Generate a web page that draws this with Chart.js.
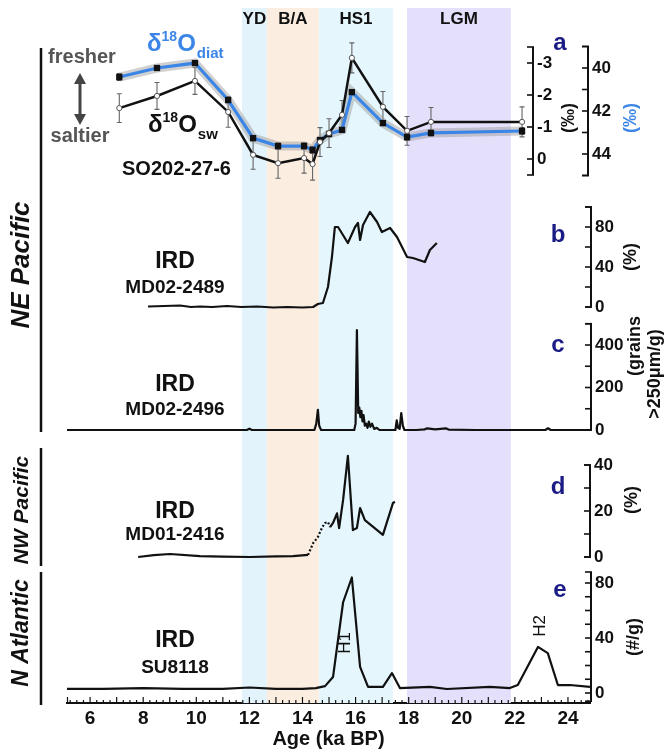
<!DOCTYPE html>
<html>
<head>
<meta charset="utf-8">
<script src="https://cdn.jsdelivr.net/npm/chart.js@4.4.1/dist/chart.umd.min.js"></script>
<style>
  html, body { margin: 0; padding: 0; background: #fff; }
  canvas { display: block; }
</style>
</head>
<body>
<canvas id="myChart" width="667" height="754"></canvas>
<script>
// ---- values (age in ka BP) ----
var ageA = [7.1, 8.52, 9.95, 11.2, 12.14, 13.08, 14.06, 14.38, 14.66, 15.0, 15.49, 15.86, 17.03, 17.94, 18.84, 22.27];
var swVal = [-1.59, -1.97, -2.44, -1.47, -0.13, 0.13, -0.03, 0.16, -0.53, -0.81, -1.38, -3.16, -1.63, -0.88, -1.16, -1.16];
var swErr = [0.45, 0.42, 0.42, 0.48, 0.45, 0.47, 0.47, 0.5, 0.45, 0.45, 0.45, 0.47, 0.48, 0.45, 0.45, 0.47];
var diatVal = [40.42, 40.0, 39.77, 41.49, 43.26, 43.63, 43.63, 43.81, 43.35, 43.07, 42.88, 41.12, 42.56, 43.21, 43.02, 42.93];
var diatErr = [0.15, 0.1, 0.1, 0.12, 0.12, 0.14, 0.14, 0.15, 0.12, 0.12, 0.12, 0.12, 0.12, 0.15, 0.12, 0.15];

var bAge = [8.18, 8.8, 9.39, 9.8, 10.14, 10.6, 11.16, 11.7, 12.29, 12.9, 13.42, 14.0, 14.4, 14.58, 14.77, 14.96, 15.11, 15.22, 15.34, 15.71, 15.98, 16.09, 16.17, 16.28, 16.54, 16.81, 16.99, 17.3, 17.56, 17.94, 18.16, 18.61, 18.8, 19.06];
var bVal = [0.5, 1, 1.5, 0, 0.5, 0, 1, 0, 0.5, -0.5, 0, -0.5, 0, 3, 4, 20, 50, 80, 80, 64, 80, 84, 67, 82, 95, 85, 75, 79, 70, 50, 49, 45, 57, 64];

var cAge = [5.0, 9.0, 11.9, 12.0, 12.1, 12.3, 14.45, 14.52, 14.58, 14.63, 14.7, 15.95, 16.0, 16.05, 16.1, 16.14, 16.18, 16.22, 16.26, 16.3, 16.35, 16.4, 16.45, 16.5, 16.56, 16.62, 16.7, 16.8, 16.9, 17.5, 17.55, 17.6, 17.66, 17.72, 17.78, 17.84, 18.3, 18.6, 18.7, 19.0, 19.4, 19.5, 20.5, 23.15, 23.25, 23.35, 25.0];
var cVal = [0, 0, 0, 6, 0, 0, 0, 30, 95, 20, 0, 0, 30, 470, 80, 105, 60, 90, 40, 70, 20, 30, 10, 40, 15, 30, 5, 10, 0, 0, 45, 10, 5, 80, 20, 0, 0, 3, 8, 3, 8, 2, 0, 0, 8, 0, 0];

var dAge = [7.81, 8.4, 9.01, 10.14, 11.0, 12.02, 13.0, 13.64, 14.21, 14.4, 14.58, 14.73, 14.85, 14.96, 15.04, 15.15, 15.3, 15.38, 15.53, 15.71, 15.9, 16.05, 16.17, 16.35, 17.03, 17.41, 17.48];
var dVal = [0, 0.8, 1.3, 0.4, 0.2, 0, 0.3, 0.4, 0.9, 6, 8.7, 12.6, 14.8, 15.2, 13, 14.8, 19, 12.6, 24.8, 44, 11.7, 12.6, 21.3, 16, 9.6, 23.5, 24];

var eAge = [5.0, 6.5, 8.0, 9.5, 11.0, 12.0, 13.0, 14.0, 14.5, 14.85, 15.15, 15.53, 15.86, 16.17, 16.47, 17.03, 17.37, 17.67, 18.8, 19.44, 21.06, 21.81, 22.11, 22.87, 23.24, 23.62, 24.07, 24.83];
var eVal = [3, 3, 3.5, 3, 3, 4, 3, 3, 3.5, 5, 11.6, 66, 84, 19, 4.4, 4.4, 14.5, 3.6, 4.4, 2.9, 4.4, 3.6, 5.8, 33.5, 29, 5.8, 5.8, 4.4];

// tick labels
var xTicks = [6, 8, 10, 12, 14, 16, 18, 20, 22, 24];
var swTicks = [-3, -2, -1, 0];
var diatTicks = [40, 42, 44];
var bTicks = [0, 40, 80];
var cTicks = [0, 200, 400];
var dTicks = [0, 20, 40];
var eTicks = [0, 40, 80];

// climate intervals
var bandNames = ['YD', 'B/A', 'HS1', 'LGM'];
var bandStart = [11.72, 12.66, 14.62, 17.94];
var bandEnd = [12.66, 14.62, 17.41, 21.85];

// ---- styling / layout ----
var FONT = '"Liberation Sans", Arial, sans-serif';
var BLUE = '#3a85e6';
var NAVY = '#1b1b86';
var bandColors = ['#e3f3fb', '#fcede1', '#e5f7fd', '#e4dffb'];
var TOP = 8, BOTTOM = 703;   // chart area, px

// value/pixel pairs that place each panel in the stack
var anchors = {
    ySw:   [-3, 63, 0, 159, true],
    yDiat: [40, 68, 44, 154, true],
    yB:    [0, 307, 80, 227, false],
    yC:    [0, 430, 400, 345, false],
    yD:    [0, 557, 40, 465, false],
    yE:    [0, 693, 80, 583, false]
};

var axisDefs = [
    {id: 'ySw', x: 533, lo: -3.5, hi: 0.5, step: 1, ticks: swTicks, title: ['(‰)'], tx: [569], ty: [118], tc: '#111'},
    {id: 'yDiat', x: 588, lo: 39, hi: 45, step: 1, ticks: diatTicks, title: ['(‰)'], tx: [631], ty: [118], tc: BLUE},
    {id: 'yB', x: 591, lo: 0, hi: 100, step: 20, ticks: bTicks, title: ['(%)'], tx: [631], ty: [257], tc: '#111'},
    {id: 'yC', x: 591, lo: 0, hi: 500, step: 100, ticks: cTicks, title: ['(grains', '>250μm/g)'], tx: [635, 655], ty: [346, 374], tc: '#111'},
    {id: 'yD', x: 590, lo: 0, hi: 40, step: 10, ticks: dTicks, title: ['(%)'], tx: [632], ty: [500], tc: '#111'},
    {id: 'yE', x: 591, lo: -6, hi: 88, step: 10, ticks: eTicks, title: ['(#/g)'], tx: [634], ty: [637], tc: '#111'}
];

function yScale(id) {
    var a = anchors[id];
    var s = (a[3] - a[1]) / (a[2] - a[0]);
    var vT = a[0] + (TOP - a[1]) / s;
    var vB = a[0] + (BOTTOM - a[1]) / s;
    if (a[4]) return {type: 'linear', display: false, reverse: true, min: vT, max: vB};
    return {type: 'linear', display: false, min: vB, max: vT};
}

function pts(xs, ys) {
    return xs.map(function (v, i) { return {x: v, y: ys[i]}; });
}

function txt(ctx, s, x, y, font, color, align, rot) {
    ctx.save();
    ctx.font = font;
    ctx.fillStyle = color;
    ctx.textAlign = align || 'center';
    ctx.textBaseline = 'middle';
    ctx.translate(x, y);
    if (rot) ctx.rotate(rot);
    ctx.fillText(s, 0, 0);
    ctx.restore();
}

function iso(ctx, x, base, sub, color) {
    ctx.save();
    ctx.fillStyle = color;
    ctx.textAlign = 'left';
    ctx.textBaseline = 'alphabetic';
    ctx.font = 'bold 24px ' + FONT;
    ctx.fillText('δ', x, base);
    x += ctx.measureText('δ').width;
    ctx.font = 'bold 14px ' + FONT;
    ctx.fillText('18', x, base - 10);
    x += ctx.measureText('18').width;
    ctx.font = 'bold 24px ' + FONT;
    ctx.fillText('O', x, base);
    x += ctx.measureText('O').width + 1;
    ctx.font = 'bold 15px ' + FONT;
    ctx.fillText(sub, x, base + 7);
    ctx.restore();
}

var decor = {
    id: 'decor',
    beforeDatasetsDraw: function (chart) {
        var ctx = chart.ctx, ca = chart.chartArea, xs = chart.scales.x;
        ctx.save();
        bandNames.forEach(function (n, i) {
            var x0 = xs.getPixelForValue(bandStart[i]), x1 = xs.getPixelForValue(bandEnd[i]);
            ctx.fillStyle = bandColors[i];
            ctx.fillRect(x0, ca.top, x1 - x0, ca.bottom - ca.top);
            txt(ctx, n, (x0 + x1) / 2, ca.top + 11, 'bold 17px ' + FONT, '#111');
        });
        // error bars
        chart.data.datasets.forEach(function (ds, i) {
            if (!ds.errorBars) return;
            var meta = chart.getDatasetMeta(i), ys = chart.scales[ds.yAxisID];
            ctx.strokeStyle = ds.errorColor;
            ctx.lineWidth = 1.1;
            meta.data.forEach(function (p, j) {
                var v = ds.data[j].y, e = ds.errorBars[j];
                var y0 = ys.getPixelForValue(v - e), y1 = ys.getPixelForValue(v + e);
                ctx.beginPath();
                ctx.moveTo(p.x, y0); ctx.lineTo(p.x, y1);
                ctx.moveTo(p.x - 2.5, y0); ctx.lineTo(p.x + 2.5, y0);
                ctx.moveTo(p.x - 2.5, y1); ctx.lineTo(p.x + 2.5, y1);
                ctx.stroke();
            });
        });
        ctx.restore();
    },
    afterDatasetsDraw: function (chart) {
        var ctx = chart.ctx, ca = chart.chartArea, xs = chart.scales.x;
        ctx.save();
        ctx.lineCap = 'butt';

        // x-axis minor ticks, pointing up
        ctx.strokeStyle = '#111';
        ctx.lineWidth = 1.2;
        for (var q = Math.ceil(xs.min * 4); q <= Math.floor(xs.max * 4); q++) {
            var px = xs.getPixelForValue(q / 4);
            ctx.beginPath();
            ctx.moveTo(px, ca.bottom);
            ctx.lineTo(px, ca.bottom - (q % 4 === 0 ? 6 : 3));
            ctx.stroke();
        }
        ctx.beginPath();
        ctx.moveTo(ca.left + 0.5, ca.bottom); ctx.lineTo(ca.left + 0.5, ca.bottom - 6);
        ctx.stroke();

        // panel y axes
        axisDefs.forEach(function (d) {
            var s = chart.scales[d.id];
            ctx.strokeStyle = '#111';
            ctx.lineWidth = 2;
            ctx.beginPath();
            ctx.moveTo(d.x, s.getPixelForValue(d.lo));
            ctx.lineTo(d.x, s.getPixelForValue(d.hi));
            ctx.stroke();
            var marks = [d.lo, d.hi];
            for (var k = Math.ceil(d.lo / d.step); k * d.step <= d.hi + 1e-9; k++) marks.push(k * d.step);
            ctx.lineWidth = 1.6;
            marks.forEach(function (v) {
                var p = s.getPixelForValue(v);
                ctx.beginPath();
                ctx.moveTo(d.x - 6, p); ctx.lineTo(d.x + 1, p);
                ctx.stroke();
            });
            d.ticks.forEach(function (v) {
                txt(ctx, String(v), d.x + 4, s.getPixelForValue(v), 'bold 17px ' + FONT, '#111', 'left');
            });
            d.title.forEach(function (t, k) {
                txt(ctx, t, d.tx[k], d.ty[k], 'bold 18px ' + FONT, d.tc, 'center', -Math.PI / 2);
            });
        });

        // panel letters
        var letters = [['a', 560, 43], ['b', 558, 235], ['c', 558, 345], ['d', 558, 487], ['e', 560, 590]];
        letters.forEach(function (l) { txt(ctx, l[0], l[1], l[2], 'bold 24px ' + FONT, NAVY); });

        // panel a annotations
        txt(ctx, 'fresher', 82, 57, 'bold 20px ' + FONT, '#555');
        txt(ctx, 'saltier', 80, 136, 'bold 20px ' + FONT, '#555');
        ctx.strokeStyle = '#444';
        ctx.fillStyle = '#444';
        ctx.lineWidth = 3;
        ctx.beginPath(); ctx.moveTo(80, 82); ctx.lineTo(80, 116); ctx.stroke();
        ctx.beginPath(); ctx.moveTo(80, 73); ctx.lineTo(74, 84); ctx.lineTo(86, 84); ctx.closePath(); ctx.fill();
        ctx.beginPath(); ctx.moveTo(80, 125); ctx.lineTo(74, 114); ctx.lineTo(86, 114); ctx.closePath(); ctx.fill();
        iso(ctx, 147, 51, 'diat', BLUE);
        iso(ctx, 148, 132, 'sw', '#111');
        txt(ctx, 'SO202-27-6', 122, 169, 'bold 20px ' + FONT, '#111', 'left');

        // IRD labels
        var ird = [['MD02-2489', 262, 288], ['MD02-2496', 385, 410], ['MD01-2416', 512, 535], ['SU8118', 641, 668]];
        ird.forEach(function (r) {
            txt(ctx, 'IRD', 175, r[1], 'bold 23px ' + FONT, '#111');
            txt(ctx, r[0], 175, r[2], 'bold 19px ' + FONT, '#111');
        });
        txt(ctx, 'H1', 345, 643, '17px ' + FONT, '#111', 'center', -Math.PI / 2);
        txt(ctx, 'H2', 540, 626, '17px ' + FONT, '#111', 'center', -Math.PI / 2);

        // regions on the left
        var regions = [['NE Pacific', 265, 48, 432, 26], ['NW Pacific', 510, 448, 566, 21], ['N Atlantic', 633, 572, 705, 23]];
        regions.forEach(function (r) {
            txt(ctx, r[0], 22, r[1], 'italic bold ' + r[4] + 'px ' + FONT, '#111', 'center', -Math.PI / 2);
            ctx.strokeStyle = '#111';
            ctx.lineWidth = 2.5;
            ctx.beginPath(); ctx.moveTo(41, r[2]); ctx.lineTo(41, r[3]); ctx.stroke();
        });
        ctx.restore();
    }
};

var lineBase = {pointRadius: 0, borderColor: '#111', borderWidth: 2.2, tension: 0, borderJoinStyle: 'round', fill: false};

var ctx = document.getElementById('myChart');

new Chart(ctx, {
    type: 'line',
    data: {
        datasets: [
            {label: 'd18O sw', data: pts(ageA, swVal), yAxisID: 'ySw', errorBars: swErr, errorColor: '#666',
                borderColor: '#111', borderWidth: 2.5, pointRadius: 2.6, pointBackgroundColor: '#fff',
                pointBorderColor: '#555', pointBorderWidth: 1, tension: 0, order: 1},
            {label: 'd18O diat', data: pts(ageA, diatVal), yAxisID: 'yDiat', errorBars: diatErr, errorColor: '#111',
                borderColor: BLUE, borderWidth: 3.2, pointStyle: 'rect', pointRadius: 2.2,
                pointBackgroundColor: '#111', pointBorderColor: '#111', tension: 0, order: 2},
            {label: 'halo', data: pts(ageA, diatVal), yAxisID: 'yDiat', borderColor: 'rgba(150,150,150,0.45)',
                borderWidth: 9, pointRadius: 0, tension: 0, order: 3},
            Object.assign({label: 'MD02-2489', data: pts(bAge, bVal), yAxisID: 'yB'}, lineBase),
            Object.assign({label: 'MD02-2496', data: pts(cAge, cVal), yAxisID: 'yC'}, lineBase),
            Object.assign({label: 'MD01-2416', data: pts(dAge, dVal), yAxisID: 'yD',
                segment: {borderDash: function (c) { return c.p1.parsed.x <= 15.05 && c.p0.parsed.x >= 14.2 ? [2, 2] : undefined; }}}, lineBase),
            Object.assign({label: 'SU8118', data: pts(eAge, eVal), yAxisID: 'yE'}, lineBase)
        ]
    },
    options: {
        responsive: false,
        animation: false,
        events: [],
        layout: {padding: {top: TOP, left: 67, right: 77, bottom: 0}},
        plugins: {legend: {display: false}, tooltip: {enabled: false}},
        scales: {
            x: {
                type: 'linear',
                min: 5.13,
                max: 24.83,
                afterBuildTicks: function (s) { s.ticks = xTicks.map(function (v) { return {value: v}; }); },
                afterFit: function (s) { s.height = 754 - BOTTOM; },
                grid: {display: false, drawTicks: false},
                border: {display: true, color: '#111', width: 2},
                ticks: {color: '#111', font: {family: FONT, size: 19, weight: 'bold'}, padding: 4, maxRotation: 0, autoSkip: false},
                title: {display: true, text: 'Age (ka BP)', color: '#111', font: {family: FONT, size: 20, weight: 'bold'}, padding: {top: 0, bottom: 3}}
            },
            ySw: yScale('ySw'),
            yDiat: yScale('yDiat'),
            yB: yScale('yB'),
            yC: yScale('yC'),
            yD: yScale('yD'),
            yE: yScale('yE')
        }
    },
    plugins: [decor]
});
</script>
</body>
</html>
